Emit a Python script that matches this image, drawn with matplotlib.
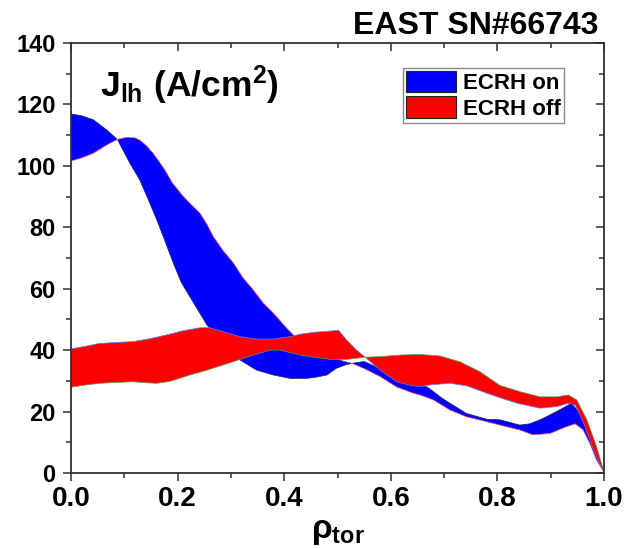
import matplotlib
matplotlib.use('Agg')
import matplotlib.pyplot as plt
from matplotlib.patches import Patch
from matplotlib.ticker import MultipleLocator
import numpy as np

# ECRH on band: two boundary curves (they cross, so the band twists)
rho_on_a = [0, 0.02, 0.042, 0.067, 0.087, 0.11, 0.129, 0.145, 0.161, 0.177, 0.192, 0.207,
            0.223, 0.24, 0.255, 0.275, 0.29, 0.317, 0.348, 0.38, 0.411, 0.442, 0.46, 0.48, 0.498,
            0.515, 0.527, 0.55, 0.58, 0.61, 0.64, 0.668, 0.68, 0.695, 0.711, 0.742, 0.78,
            0.805, 0.842, 0.86, 0.88, 0.911, 0.939, 0.955, 0.974, 0.99, 1.0]
j_on_a = [116.9, 116.3, 115, 111.7, 108.6, 101, 95.4, 89, 82.4, 75.2, 68.3, 62,
          57.4, 52.5, 48.2, 44, 42, 36.8, 33.5, 31.9, 30.8, 30.8, 31.2, 31.9, 34.1,
          35.2, 35.7, 36.3, 34, 31.5, 29.2, 28, 26.5, 24.5, 22.7, 19.4, 17.5,
          17.3, 15.6, 16, 17.3, 20, 22.7, 19.4, 11.8, 4, 0.5]

rho_on_b = [0, 0.02, 0.042, 0.067, 0.087, 0.104, 0.12, 0.129, 0.142, 0.154, 0.165, 0.176,
            0.19, 0.211, 0.225, 0.242, 0.255, 0.267, 0.285, 0.305, 0.323, 0.342, 0.36, 0.38,
            0.405, 0.417, 0.45, 0.48, 0.51, 0.527, 0.55, 0.58, 0.611, 0.642, 0.655, 0.68,
            0.711, 0.742, 0.78, 0.805, 0.842, 0.867, 0.899, 0.93, 0.946, 0.961, 0.975, 0.986, 1.0]
j_on_b = [101.6, 102.6, 104.1, 106.8, 108.6, 109.3, 109.1, 108.4, 106.5, 104.1, 101.5, 98.7,
          94.5, 90, 87.5, 84.6, 81, 77, 72.5, 68.3, 63.5, 59.6, 55.5, 52,
          47.1, 45, 41, 38.5, 36.5, 35.7, 34, 31.4, 28, 26, 25.4, 23.8,
          20.5, 18.3, 16.7, 15.6, 14, 12.4, 12.9, 15.1, 16, 14, 9, 4.2, 0.3]

# ECRH off band
rho_off_a = [0, 0.025, 0.054, 0.085, 0.117, 0.15, 0.18, 0.21, 0.242, 0.26, 0.286, 0.317,
             0.348, 0.38, 0.411, 0.43, 0.455, 0.492, 0.502, 0.517, 0.536, 0.552, 0.58,
             0.611, 0.635, 0.655, 0.674, 0.711, 0.742, 0.78, 0.817, 0.842, 0.88, 0.911,
             0.933, 0.946, 0.96, 0.975, 0.99, 1.0]
j_off_a = [40.4, 41.2, 42.2, 42.5, 42.8, 43.8, 45, 46.3, 47.3, 47.3, 46, 44.4,
           43.6, 43.6, 44.4, 45.2, 45.8, 46.3, 46.5, 43.3, 40, 37.7, 33.5,
           29.7, 28.6, 28.1, 28.7, 29.2, 28.4, 26, 23.8, 22.5, 21.1, 21.6,
           22.7, 22.1, 17, 10, 3.5, 0.3]

rho_off_b = [0, 0.025, 0.054, 0.085, 0.117, 0.14, 0.161, 0.185, 0.223, 0.25, 0.286, 0.323,
             0.35, 0.373, 0.392, 0.43, 0.455, 0.486, 0.517, 0.552, 0.58, 0.617, 0.655,
             0.692, 0.73, 0.767, 0.805, 0.842, 0.88, 0.911, 0.933, 0.949, 0.968, 0.986, 1.0]
j_off_b = [27.9, 28.6, 29.2, 29.5, 29.7, 29.4, 29.2, 29.8, 31.9, 33.2, 35.2, 37.3,
           38.8, 40, 40, 38.4, 37.7, 37, 37, 37.7, 37.9, 38.4, 38.6,
           38.1, 36.2, 33, 28.5, 26.5, 24.8, 24.8, 25.4, 23.8, 17.3, 8.6, 0.3]

plt.rcParams['font.family'] = ['Liberation Sans', 'DejaVu Sans']
plt.rcParams['font.weight'] = 'bold'
plt.rcParams['mathtext.fontset'] = 'custom'
plt.rcParams['mathtext.rm'] = 'Liberation Sans:bold'
plt.rcParams['mathtext.it'] = 'Liberation Sans:bold'
plt.rcParams['mathtext.bf'] = 'Liberation Sans:bold'
plt.rcParams['mathtext.default'] = 'rm'

fig = plt.figure(figsize=(6.28, 5.48), dpi=100)
ax = fig.add_axes([71 / 628, 75 / 548, 533 / 628, 430 / 548])


def band(xa, ya, xb, yb, color, ca, cb, z):
    xs = np.concatenate([xa, xb[::-1]])
    ys = np.concatenate([ya, yb[::-1]])
    ax.fill(xs, ys, color=color, lw=0, zorder=z)
    ax.plot(xa, ya, color=ca, lw=0.5, zorder=z + 0.1)
    ax.plot(xb, yb, color=cb, lw=0.5, zorder=z + 0.1)


band(rho_on_a, j_on_a, rho_on_b, j_on_b, 'blue', '#202060', '#ff5050', 1)
band(rho_off_a, j_off_a, rho_off_b, j_off_b, 'red', '#5080ff', '#50a050', 2)

ax.set_xlim(0, 1)
ax.set_ylim(0, 140)
ax.xaxis.set_major_locator(MultipleLocator(0.2))
ax.xaxis.set_minor_locator(MultipleLocator(0.1))
ax.yaxis.set_major_locator(MultipleLocator(20))
ax.yaxis.set_minor_locator(MultipleLocator(10))
ax.set_xticklabels([f'{v:.1f}' for v in ax.get_xticks()])

edge = '#303030'
for s in ax.spines.values():
    s.set_linewidth(1.3)
    s.set_color(edge)
    s.set_zorder(5)
ax.tick_params(which='both', direction='out', width=1.1, color=edge)
ax.tick_params(which='major', length=6)
ax.tick_params(which='minor', length=3.5)
ax.tick_params(axis='x', labelsize=20, pad=3)
ax.tick_params(axis='y', labelsize=17, pad=5)

top = ax.secondary_xaxis('top')
top.xaxis.set_major_locator(MultipleLocator(0.2))
top.xaxis.set_minor_locator(MultipleLocator(0.1))
top.tick_params(which='both', direction='in', labeltop=False, width=1.1, color=edge)
top.tick_params(which='major', length=6)
top.tick_params(which='minor', length=3.5)
top.spines['top'].set_visible(False)

right = ax.secondary_yaxis('right')
right.yaxis.set_major_locator(MultipleLocator(20))
right.yaxis.set_minor_locator(MultipleLocator(10))
right.tick_params(which='both', direction='in', labelright=False, width=1.1, color=edge)
right.tick_params(which='major', length=6)
right.tick_params(which='minor', length=3.5)
right.spines['right'].set_visible(False)

ax.set_xlabel(r'$\rho_{tor}$', fontsize=24, labelpad=3)
ax.text(0.054, 0.874, r'$J_{lh}\ (A/cm^2)$', transform=ax.transAxes,
        fontsize=25.5, va='baseline', ha='left')

fig.text(598 / 628, 1 - 33.5 / 548, 'EAST SN#66743', fontsize=23, weight='bold',
         ha='right', va='baseline')

handles = [Patch(facecolor='blue', edgecolor='#202020', lw=0.8, label='ECRH on'),
           Patch(facecolor='red', edgecolor='#202020', lw=0.8, label='ECRH off')]
leg = ax.legend(handles=handles, loc='upper right', bbox_to_anchor=(0.925, 0.9426),
                borderaxespad=0, fontsize=16, handlelength=2.25, handleheight=1.1,
                handletextpad=0.3, borderpad=0.15, labelspacing=0.1, fancybox=False,
                framealpha=1)
leg.get_frame().set_edgecolor('#888888')
leg.get_frame().set_linewidth(1.0)
leg.set_zorder(6)

fig.savefig('out.png', dpi=100)
